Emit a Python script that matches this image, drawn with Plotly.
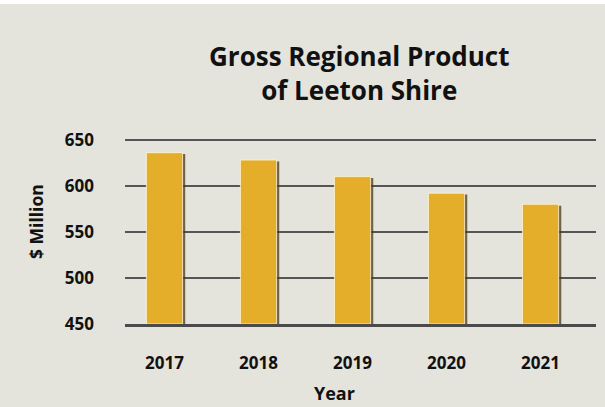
import plotly.graph_objects as go

years = ["2017", "2018", "2019", "2020", "2021"]
gdp_million = [636, 628, 610, 592, 580]
y_ticks = [450, 500, 550, 600, 650]

chart_title = "Gross Regional Product<br>of Leeton Shire"
x_title = "Year"
y_title = "$ Million"

BG = "#E4E3DC"
BAR = "#E4AE2B"
FONT = "Open Sans"
BASE = 450
TOP = 653

bar_w = 0.385
shadow_shift = 0.028

heights = [v - BASE for v in gdp_million]

fig = go.Figure()
# drop shadow
fig.add_trace(go.Bar(
    x=years, y=[h - 1.5 for h in heights], base=BASE,
    width=bar_w, offset=-bar_w / 2 + shadow_shift,
    marker=dict(color="rgba(70,55,25,0.75)", line=dict(width=0)),
    hoverinfo="skip", showlegend=False,
))
fig.add_trace(go.Bar(
    x=years, y=heights, base=BASE,
    width=bar_w, offset=-bar_w / 2,
    marker=dict(color=BAR, line=dict(color="rgba(255,245,215,0.8)", width=1)),
    showlegend=False,
))

L, R, T, B = 125, 9, 137, 83
W_plot = 605 - L - R
H_plot = 407 - T - B

def px_x(px):
    return (px - L) / W_plot

def px_y(py):
    return (407 - B - py) / H_plot

fig.update_layout(
    width=605, height=407,
    paper_bgcolor="#FFFFFF", plot_bgcolor=BG,
    margin=dict(l=L, r=R, t=T, b=B),
    barmode="overlay",
    font=dict(family=FONT, color="#111111"),
    shapes=[dict(type="rect", xref="paper", yref="paper",
                 x0=px_x(-5), x1=px_x(610), y0=px_y(412), y1=px_y(4),
                 fillcolor=BG, line=dict(width=0), layer="below")],
    annotations=[
        dict(text="<b>" + chart_title.replace("<br>", "</b><br><b>") + "</b>",
             x=px_x(359), y=px_y(73), xref="paper", yref="paper", showarrow=False,
             font=dict(size=26, family=FONT, color="#111111"), align="center",
             xanchor="center", yanchor="middle"),
        dict(text="<b>" + x_title + "</b>", x=px_x(334), y=px_y(393),
             xref="paper", yref="paper", showarrow=False,
             font=dict(size=18, family=FONT, color="#111111"),
             xanchor="center", yanchor="middle"),
        dict(text="<b>" + y_title + "</b>", x=px_x(36), y=px_y(222),
             xref="paper", yref="paper", showarrow=False, textangle=-90,
             font=dict(size=17.5, family=FONT, color="#111111"),
             xanchor="center", yanchor="middle"),
    ],
)

fig.update_xaxes(
    type="category", range=[-0.42, 4.59],
    showgrid=False, zeroline=False,
    showline=True, linecolor="#4a4a4a", linewidth=3,
    ticks="", ticklabelstandoff=22,
    tickfont=dict(size=17, family=FONT, color="#111111"),
    tickprefix="<b>", ticksuffix="</b>",
)
fig.update_yaxes(
    range=[BASE, TOP], tickvals=y_ticks,
    ticktext=["<b>%d</b>" % v for v in y_ticks],
    showgrid=True, gridcolor="#555555", gridwidth=1.5,
    zeroline=False, showline=False, ticks="",
    ticklabelstandoff=30,
    tickfont=dict(size=17, family=FONT, color="#111111"),
)

fig.write_html("out.html", config={"displayModeBar": False},
               post_script="document.body.style.margin='0';")
